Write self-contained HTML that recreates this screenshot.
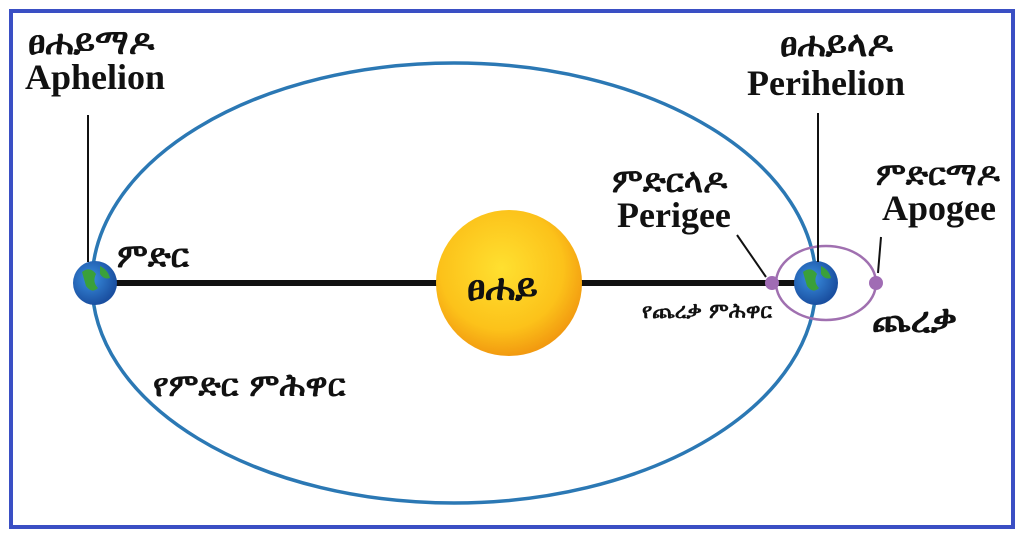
<!DOCTYPE html>
<html><head><meta charset="utf-8"><style>
html,body{margin:0;padding:0;background:#fff;}
body{width:1024px;height:541px;overflow:hidden;position:relative;}
.t{position:absolute;font-family:"Liberation Serif","DejaVu Serif","Noto Sans CJK SC",serif;font-weight:bold;color:#111;white-space:nowrap;}
.e{font-family:"DejaVu Sans","Liberation Sans","Noto Sans CJK SC",sans-serif;}
</style></head><body>
<svg width="1024" height="541" style="position:absolute;left:0;top:0">
<defs>
<radialGradient id="sun" cx="45%" cy="40%" r="60%">
<stop offset="0" stop-color="#ffe030"/><stop offset="0.7" stop-color="#fcc21a"/><stop offset="1" stop-color="#f29a10"/>
</radialGradient>
<radialGradient id="earth" cx="40%" cy="40%" r="60%">
<stop offset="0" stop-color="#3a8fe0"/><stop offset="1" stop-color="#1a4fa0"/>
</radialGradient>
</defs>
<rect x="11" y="11" width="1002" height="516" fill="none" stroke="#3a4fc4" stroke-width="4"/>
<ellipse cx="454" cy="283" rx="362" ry="220" fill="none" stroke="#2b78b4" stroke-width="3.5"/>
<line x1="92" y1="283" x2="800" y2="283" stroke="#111" stroke-width="6"/>
<circle cx="509" cy="283" r="73" fill="url(#sun)"/>
<ellipse cx="826" cy="283" rx="50" ry="37" fill="none" stroke="#a070b0" stroke-width="2.5"/>
<circle cx="772" cy="283" r="7" fill="#a06cb4"/>
<circle cx="876" cy="283" r="7" fill="#a06cb4"/>
<g>
<circle cx="95" cy="283" r="22" fill="url(#earth)"/>
<path d="M82 272 q8 -6 14 2 q-4 8 2 14 q-6 6 -12 -2 z" fill="#3aa03a"/>
<path d="M100 266 q8 4 10 12 q-6 2 -10 -4 z" fill="#3aa03a"/>
</g>
<g>
<circle cx="816" cy="283" r="22" fill="url(#earth)"/>
<path d="M803 272 q8 -6 14 2 q-4 8 2 14 q-6 6 -12 -2 z" fill="#3aa03a"/>
<path d="M821 266 q8 4 10 12 q-6 2 -10 -4 z" fill="#3aa03a"/>
</g>
<line x1="88" y1="115" x2="88" y2="262" stroke="#111" stroke-width="2"/>
<line x1="818" y1="113" x2="818" y2="262" stroke="#111" stroke-width="2"/>
<line x1="737" y1="235" x2="766" y2="277" stroke="#111" stroke-width="2"/>
<line x1="881" y1="237" x2="878" y2="273" stroke="#111" stroke-width="2"/>
</svg>
<div class="t e" style="left:28px;top:23px;font-size:35px">ፀሐይማዶ</div>
<div class="t" style="left:25px;top:56px;font-size:36px">Aphelion</div>
<div class="t e" style="left:780px;top:25px;font-size:35px">ፀሐይላዶ</div>
<div class="t" style="left:747px;top:62px;font-size:36px">Perihelion</div>
<div class="t e" style="left:612px;top:161px;font-size:33px">ምድርላዶ</div>
<div class="t" style="left:617px;top:194px;font-size:36px">Perigee</div>
<div class="t e" style="left:876px;top:155px;font-size:32px">ምድርማዶ</div>
<div class="t" style="left:882px;top:187px;font-size:36px">Apogee</div>
<div class="t e" style="left:117px;top:236px;font-size:33px">ምድር</div>
<div class="t e" style="left:467px;top:266px;font-size:37px">ፀሐይ</div>
<div class="t e" style="left:642px;top:299px;font-size:21px">የጨረቃ ምሕዋር</div>
<div class="t e" style="left:872px;top:300px;font-size:36px">ጨረቃ</div>
<div class="t e" style="left:153px;top:366px;font-size:32px">የምድር ምሕዋር</div>
</body></html>
